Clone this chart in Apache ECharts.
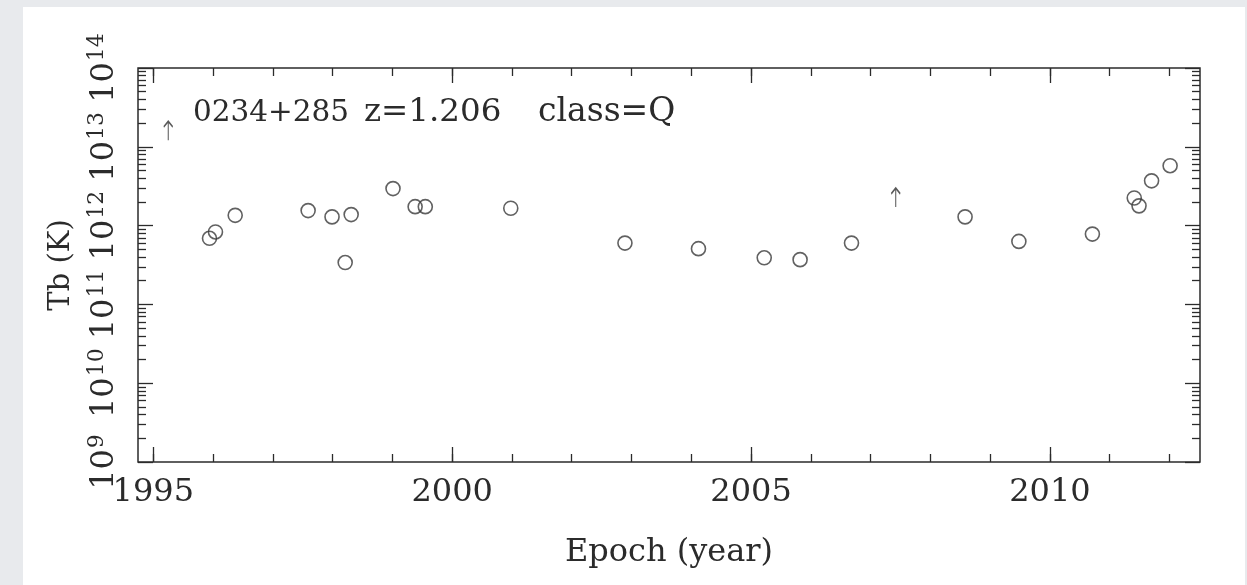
<!DOCTYPE html>
<html>
<head>
<meta charset="utf-8">
<script src="https://cdn.jsdelivr.net/npm/echarts@6/dist/echarts.min.js"></script>
<style>
  html, body { margin: 0; padding: 0; width: 1247px; height: 585px; overflow: hidden; background: #e8eaed; }
  #panel { position: absolute; left: 23px; top: 7px; width: 1222px; height: 578px; background: #ffffff; }
  #chart { position: absolute; left: 0; top: 0; width: 1247px; height: 585px; }
</style>
</head>
<body>
<div id="panel"></div>
<div id="chart"></div>
<script>
// measured epochs (year) and brightness temperature Tb (K)
const epochs = [1995.94, 1996.04, 1996.37, 1997.59, 1997.99, 1998.31, 1998.21, 1999.01,
  1999.38, 1999.55, 2000.98, 2002.89, 2004.12, 2005.22, 2005.82, 2006.68,
  2008.58, 2009.48, 2010.71, 2011.41, 2011.49, 2011.70, 2012.01];
const tbValues = [6.9e11, 8.3e11, 1.35e12, 1.55e12, 1.29e12, 1.38e12, 3.4e11, 2.95e12,
  1.74e12, 1.74e12, 1.66e12, 6.0e11, 5.1e11, 3.9e11, 3.7e11, 6.0e11,
  1.29e12, 6.3e11, 7.8e11, 2.24e12, 1.78e12, 3.7e12, 5.75e12];

// lower limits (drawn as arrows)
const limitEpochs = [1995.25, 2007.42];
const limitTb = [1.6e13, 2.27e12];

// axis ticks
const xMajorTicks = [1995, 2000, 2005, 2010];
const xMinorTicks = [1995, 1996, 1997, 1998, 1999, 2000, 2001, 2002, 2003, 2004,
  2005, 2006, 2007, 2008, 2009, 2010, 2011, 2012];
const yMajorTicks = [1e9, 1e10, 1e11, 1e12, 1e13, 1e14];
const yMinorMultipliers = [2, 3, 4, 5, 6, 7, 8, 9];

const sourceLabel = ['0234+285', 'z=1.206', 'class=Q'];

const xMin = 1994.744, xMax = 2012.51;
const yMin = 1e9, yMax = 1e14;

const yMinorTicks = [];
yMajorTicks.slice(0, -1).forEach(d => yMinorMultipliers.forEach(m => yMinorTicks.push(m * d)));

const FONT = 'DejaVu Serif';
const INK = '#2b2b2b';

function xAxisDef(pos, ticks, len, withLabels) {
  const ax = {
    type: 'value', position: pos, min: xMin, max: xMax,
    axisLine: { show: false, onZero: false },
    splitLine: { show: false },
    axisTick: { show: true, inside: true, length: len, customValues: ticks,
      lineStyle: { color: INK, width: 1.3 } },
    axisLabel: { show: false }
  };
  if (withLabels) {
    ax.axisLabel = { show: true, customValues: xMajorTicks, margin: 15,
      fontFamily: FONT, fontSize: 32, color: INK, formatter: v => String(v) };
    ax.name = 'Epoch (year)';
    ax.nameLocation = 'middle';
    ax.nameGap = 75;
    ax.nameTextStyle = { fontFamily: FONT, fontSize: 32, color: INK };
  }
  return ax;
}

function yAxisDef(pos, ticks, len, withLabels) {
  const ax = {
    type: 'log', logBase: 10, position: pos, min: yMin, max: yMax,
    axisLine: { show: false, onZero: false },
    splitLine: { show: false },
    minorTick: { show: false },
    axisTick: { show: true, inside: true, length: len, customValues: ticks,
      lineStyle: { color: INK, width: 1.3 } },
    axisLabel: { show: false }
  };
  if (withLabels) {
    ax.axisLabel = {
      show: true, customValues: yMajorTicks, rotate: 90, margin: 17,
      color: INK,
      formatter: v => '{b|10}{e|' + Math.round(Math.log10(v)) + '}',
      rich: {
        b: { fontFamily: FONT, fontSize: 32, lineHeight: 32, verticalAlign: 'bottom', color: INK },
        e: { fontFamily: FONT, fontSize: 22, lineHeight: 22, verticalAlign: 'bottom', padding: [0, 0, 13, 1], color: INK }
      }
    };
    ax.name = 'Tb (K)';
    ax.nameLocation = 'middle';
    ax.nameGap = 62;
    ax.nameTextStyle = { fontFamily: FONT, fontSize: 29, color: INK };
  }
  return ax;
}

const chart = echarts.init(document.getElementById('chart'), null, { renderer: 'canvas' });

chart.setOption({
  animation: false,
  backgroundColor: 'transparent',
  grid: {
    left: 138, right: 47, top: 68, bottom: 123,
    show: true, borderColor: INK, borderWidth: 1.5, backgroundColor: 'transparent'
  },
  xAxis: [
    xAxisDef('bottom', xMajorTicks, 15, true),
    xAxisDef('bottom', xMinorTicks, 8, false),
    xAxisDef('top', xMajorTicks, 15, false),
    xAxisDef('top', xMinorTicks, 8, false)
  ],
  yAxis: [
    yAxisDef('left', yMajorTicks, 15, true),
    yAxisDef('left', yMinorTicks, 8, false),
    yAxisDef('right', yMajorTicks, 15, false),
    yAxisDef('right', yMinorTicks, 8, false)
  ],
  graphic: sourceLabel.map((t, i) => ({
    type: 'text',
    left: [193, 364, 538][i],
    top: [98, 96, 96][i],
    style: { text: t, fontFamily: FONT, fontSize: [29.5, 32.5, 33][i], fill: INK }
  })),
  series: [
    {
      type: 'scatter',
      xAxisIndex: 0, yAxisIndex: 0,
      data: epochs.map((e, i) => [e, tbValues[i]]),
      symbol: 'circle',
      symbolSize: 14,
      itemStyle: { color: 'rgba(255,255,255,0)', borderColor: '#3a3a3a', borderWidth: 1.6 }
    },
    {
      type: 'scatter',
      xAxisIndex: 0, yAxisIndex: 0,
      data: limitEpochs.map((e, i) => [e, limitTb[i]]),
      symbol: 'path://M5,0 L5,20 M1,6 L5,0 L9,6',
      symbolSize: [9, 19],
      itemStyle: { color: 'none', borderColor: '#2f2f2f', borderWidth: 1.5 }
    }
  ]
});
</script>
</body>
</html>
